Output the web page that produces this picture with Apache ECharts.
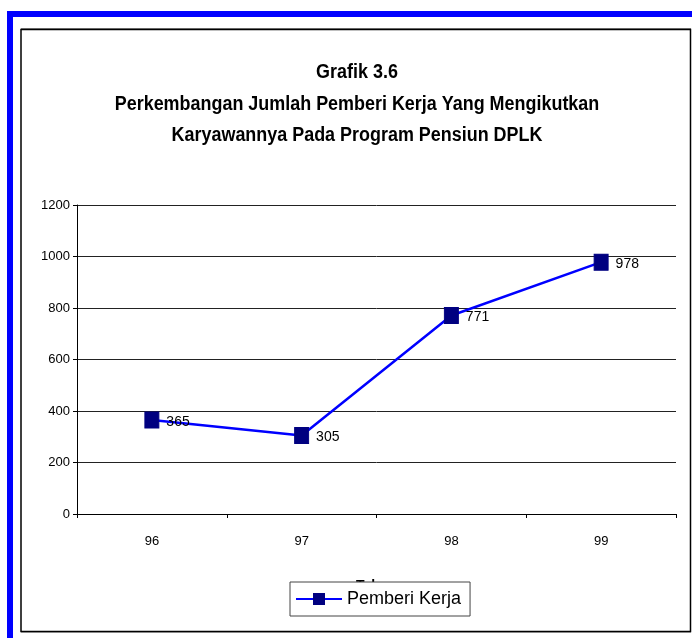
<!DOCTYPE html>
<html><head><meta charset="utf-8">
<script src="https://cdn.jsdelivr.net/npm/echarts@6/dist/echarts.min.js"></script>
<style>html,body{margin:0;padding:0;background:#fff}#c{width:692px;height:638px}</style>
</head><body><div id="c"></div>
<script>
const categories = ['96', '97', '98', '99'];
const pemberiKerja = [365, 305, 771, 978];
const yTicks = [0, 200, 400, 600, 800, 1000, 1200];
const titleLines = ['Grafik 3.6', 'Perkembangan Jumlah Pemberi Kerja Yang Mengikutkan', 'Karyawannya Pada Program Pensiun DPLK'];
const seriesName = 'Pemberi Kerja';
const xAxisName = 'Tahun';

const FONT = '"Liberation Sans", Arial, sans-serif';
const titleY = [73, 104.5, 136];
const titleGraphics = titleLines.map((t, i) => ({
  type: 'text', x: 357, y: titleY[i], scaleX: 0.92, z: 11,
  style: {text: t, textAlign: 'center', textVerticalAlign: 'middle', fill: '#000',
    font: 'bold 19.5px ' + FONT}
}));

const chart = echarts.init(document.getElementById('c'), null, {renderer: 'canvas'});
chart.setOption({
  backgroundColor: '#fff',
  animation: false,
  graphic: [
    {type: 'rect', shape: {x: 7, y: 11, width: 685, height: 6}, style: {fill: '#0000ff'}, z: 10},
    {type: 'rect', shape: {x: 7, y: 11, width: 6, height: 627}, style: {fill: '#0000ff'}, z: 10},
    {type: 'line', shape: {x1: 21, y1: 28.5, x2: 691, y2: 28.5}, style: {stroke: '#888', lineWidth: 1}, z: 10},
    {type: 'rect', shape: {x: 21, y: 29.5, width: 669.5, height: 602}, style: {fill: 'none', stroke: '#000', lineWidth: 1.5}, z: 10},
    {type: 'line', shape: {x1: 21, y1: 632.5, x2: 691, y2: 632.5}, style: {stroke: '#888', lineWidth: 1}, z: 10}
  ].concat(titleGraphics),
  legend: {
    data: [seriesName],
    left: 290, top: 582,
    padding: [8, 9, 8, 5],
    itemWidth: 46, itemHeight: 15, itemGap: 5,
    backgroundColor: '#fff',
    borderColor: '#444', borderWidth: 1,
    textStyle: {fontFamily: FONT, fontSize: 18, color: '#000'}
  },
  grid: {left: 77, right: 16, top: 205, bottom: 124, containLabel: false},
  xAxis: {
    type: 'category', data: categories, boundaryGap: true,
    name: xAxisName, nameLocation: 'middle', nameGap: 65,
    nameTextStyle: {fontFamily: FONT, fontWeight: 'bold', fontSize: 14, color: '#000'},
    axisLine: {lineStyle: {color: '#000', width: 1}},
    axisTick: {show: true, alignWithLabel: false, length: 4, lineStyle: {color: '#000'}},
    axisLabel: {fontFamily: FONT, fontSize: 13, color: '#000', margin: 21}
  },
  yAxis: {
    type: 'value', min: yTicks[0], max: yTicks[yTicks.length - 1], interval: yTicks[1] - yTicks[0],
    axisLine: {show: true, lineStyle: {color: '#000', width: 1}},
    axisTick: {show: true, length: 4, lineStyle: {color: '#000'}},
    axisLabel: {fontFamily: FONT, fontSize: 13, color: '#000', margin: 7, formatter: v => String(v)},
    splitLine: {show: true, lineStyle: {color: '#222', width: 1}}
  },
  series: [{
    name: seriesName, type: 'line', data: pemberiKerja,
    symbol: 'rect', symbolSize: [14, 16],
    lineStyle: {color: '#0000ff', width: 2.5},
    itemStyle: {color: '#000080', borderColor: '#000080'},
    label: {show: true, position: 'right', distance: 7, offset: [0, 2], fontFamily: FONT, fontSize: 14, color: '#000'}
  }]
});
</script></body></html>
